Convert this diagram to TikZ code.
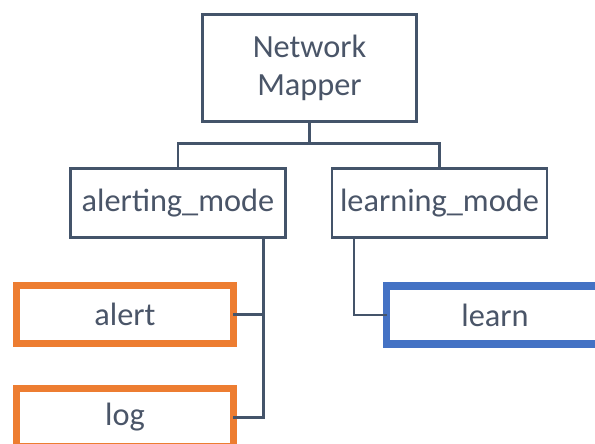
\documentclass[tikz,border=0pt]{standalone}
\usepackage{fontspec}
\setmainfont{Carlito}
\usepackage{xcolor}
\usepackage{tikz}
\usetikzlibrary{calc}

\definecolor{slate}{HTML}{44546A}
\definecolor{ink}{HTML}{4A5568}
\definecolor{accorange}{HTML}{ED7D31}
\definecolor{accblue}{HTML}{4472C4}

\begin{document}
\begin{tikzpicture}[
  x=0.02cm, y=0.02cm,
  font=\fontsize{18.4}{21.6}\selectfont,
  box/.style   = {draw=slate, line width=1.4pt, fill=white, text=ink,
                  inner sep=0pt, outer sep=0pt, align=center},
  modebox/.style = {box, minimum width=4.3cm, minimum height=1.38cm},
  leafbox/.style = {box, line width=4pt, minimum width=4.34cm, minimum height=1.16cm},
  link/.style  = {draw=slate, line width=1.4pt},
]
\useasboundingbox (0,0) rectangle (595,443);
\clip (0,0) rectangle (595,443);

%% ── Root ───────────────────────────────────────────────────────────────────
\node[box, minimum width=4.28cm, minimum height=2.14cm] (root)
  at (309.5,375) {Network\\Mapper};

%% ── Modes ──────────────────────────────────────────────────────────────────
\node[modebox] (amode) at (178,240)   {alerting\_mode};
\node[modebox] (lmode) at (439.5,240) {learning\_mode};

\draw[link] (root.south) -- ++(0,-22) -| (amode.north);
\draw[link] (root.south) -- ++(0,-22) -| (lmode.north);

%% ── Actions ────────────────────────────────────────────────────────────────
\node[leafbox, draw=accorange] (alert) at (125,128.5) {alert};
\node[leafbox, draw=accorange] (log)   at (125,25.5)  {log};
\node[leafbox, draw=accblue]   (learn) at (495,128)   {learn};

\draw[link] (alert.east) -| ($(amode.south east)+(-22,0)$);
\draw[link] (log.east)   -| ($(amode.south east)+(-22,0)$);
\draw[link] (learn.west) -| ($(lmode.south west)+(22,0)$);

\end{tikzpicture}
\end{document}
